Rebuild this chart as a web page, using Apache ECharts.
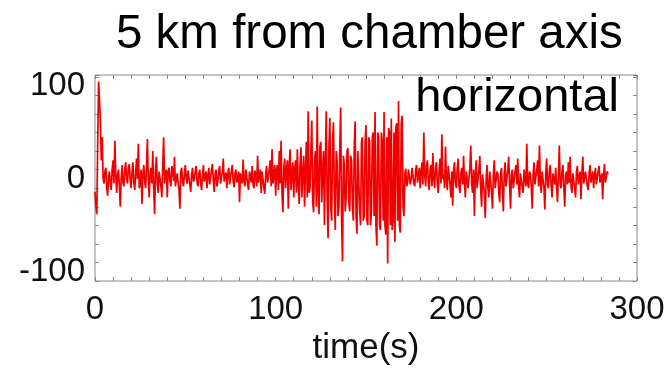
<!DOCTYPE html>
<html>
<head>
<meta charset="utf-8">
<script src="https://cdn.jsdelivr.net/npm/echarts@6/dist/echarts.min.js"></script>
<style>
html,body{margin:0;padding:0;background:#fff;}
#chart{width:669px;height:369px;}
</style>
</head>
<body>
<div id="chart"></div>
<script>
// ---- data ----
const titleText = '5 km from chamber axis';
const componentLabel = 'horizontal';
const xAxisName = 'time(s)';
const xTickLabels = [0, 100, 200, 300];
const yTickLabels = [-100, 0, 100];
const timeStep = 0.5; // seconds between samples
// ground motion, two samples per second from t = 0 s
const signal = [
  -14,-30, -38,40, 105,85, 60,20, 45,0, -5,8, 12,-10, -18,3, 8,-6, -12,10,
  20,-5, 41,5, -15,4, 10,-8, -30,0, 15,-4, -8,10, 18,0, -5,12, 16,-2,
  -10,8, 18,-4, -12,6, 22,0, 38,-10, -5,10, -27,5, 15,-2, -10,12, 43,0,
  -20,6, 12,-5, 30,-12, -38,10, 24,-6, -15,8, 10,-8, -20,15, 45,-5, 5,10,
  -20,8, 12,-3, -8,14, 10,-2, 24,-8, -10,6, 5,-12, -32,8, 12,-3, -8,6,
  15,0, -5,9, 8,-6, -14,5, 12,-3, 0,8, 14,-4, -8,6, 10,-5, -12,4,
  15,-3, 2,8, -10,4, 12,-6, -5,10, 16,-2, -14,6, 10,-8, -3,9, 14,-5,
  -6,8, 22,-3, 3,7, -10,5, 12,-6, -4,9, 15,-3, -9,6, 10,-4, 0,8,
  -25,6, 8,-5, 21,-2, -8,10, 12,-6, -12,8, 6,-4, 14,-6, -10,9, 5,-8,
  25,-4, -2,10, -15,8, 10,-10, -16,6, 14,-4, 2,12, 20,-8, 32,-5, -5,15,
  -18,10, 15,-12, 30,-5, 41,-15, -36,12, 22,-10, 10,20, -32,15, 32,-12, 5,18,
  -20,10, 20,-15, 32,-5, -27,15, 34,-20, 5,25, -30,10, 40,-20, 73,-15, -10,30,
  63,-25, -36,20, 30,-30, 78,-15, -38,35, 40,-25, 10,30, -50,20, 73,-20, -64,35,
  66,-30, -45,40, 61,-20, -55,30, 20,-40, -30,35, 77,-45, -89,25, 15,-35, -20,30,
  33,-25, -35,25, 20,-30, -45,35, 62,-40, -59,30, 30,-35, -50,40, 45,-45, -40,40,
  58,-45, -50,45, 40,-50, -35,45, 50,-40, 72,-50, -72,50, 45,-50, -55,50, 40,-45,
  72,-50, -60,45, -91,55, 50,-50, 65,-55, -45,50, -68,55, 60,-45, 84,-50, -58,60,
  68,-30, -40,5, 11,-8, -5,10, 8,-6, 0,12, 12,-5, -8,10, 15,-4, 3,12,
  -10,8, 18,-6, 50,5, -8,14, 20,-4, -12,10, 15,-8, 28,0, -10,12, 18,-6,
  -15,10, 22,-5, 48,0, 5,-10, 35,-2, -12,14, 15,-6, -20,8, -29,10, 18,-4,
  -10,12, 22,-8, -15,6, 12,-6, 25,-4, -20,8, 10,-10, -8,12, 36,-5, -15,10,
  -40,5, 20,-10, -10,10, 25,-12, -30,5, 5,-15, -42,0, 15,-10, -20,8, 8,-14,
  -32,5, 20,-10, -12,8, 5,-15, -25,6, 12,-12, -35,5, 18,-8, -10,10, 24,-6,
  -32,5, 10,-10, -8,8, 15,-6, 22,-10, -20,6, 8,-10, -15,10, 12,-8, 38,-5,
  -10,8, 5,-8, -32,4, 18,-6, -5,10, 20,-8, 36,-4, -15,8, 10,-10, -33,6,
  22,-6, -10,10, 15,-8, -20,6, 8,-6, 12,-10, -25,4, 36,-6, -10,8, 15,-10,
  -30,4, 8,-6, 18,-4, 24,-8, -15,6, 5,-10, -20,8, 14,-6, -8,8, -22,6,
  24,-5, -5,8, 10,-8, -12,6, 15,-4, 2,8, -10,4, 12,-6, -8,8, 14,-4,
  0,6, -22,4, 16,-4, 2,8, 5
];

const seriesData = signal.map((v, i) => [i * timeStep, v]);

const FONT = "'Liberation Sans', Arial, Helvetica, sans-serif";
const axisGray = '#8a8a8a';

const chart = echarts.init(document.getElementById('chart'), null, {renderer: 'canvas'});

function xLabel(v) { return xTickLabels.indexOf(Number(v)) >= 0 ? String(v) : ''; }

const option = {
  animation: false,
  backgroundColor: '#ffffff',
  title: [
    {
      text: titleText,
      left: 111,
      top: 6,
      textStyle: {fontSize: 47.5, fontWeight: 'normal', color: '#000', fontFamily: FONT}
    },
    {
      text: componentLabel,
      right: 45,
      top: 70,
      textStyle: {fontSize: 47, fontWeight: 'normal', color: '#000', fontFamily: FONT}
    }
  ],
  grid: {
    left: 95, right: 32, top: 75, bottom: 88,
    outerBoundsMode: 'none',
    containLabel: false,
    show: true, borderColor: axisGray, borderWidth: 1, backgroundColor: 'transparent'
  },
  xAxis: [
    {
      type: 'value', min: 0, max: 300, interval: 10,
      axisLine: {show: false, onZero: false},
      axisTick: {show: true, inside: true, length: 4, lineStyle: {color: axisGray}},
      axisLabel: {formatter: xLabel, fontSize: 33, color: '#111', fontFamily: FONT, margin: 12, showMaxLabel: true, showMinLabel: true},
      splitLine: {show: false},
      name: xAxisName, nameLocation: 'middle', nameGap: 38,
      nameTextStyle: {fontSize: 35, color: '#111', fontFamily: FONT}
    },
    {
      type: 'value', position: 'top', min: 0, max: 300, interval: 10,
      axisLine: {show: false, onZero: false},
      axisTick: {show: true, inside: true, length: 4, lineStyle: {color: axisGray}},
      axisLabel: {show: false},
      splitLine: {show: false}
    }
  ],
  yAxis: [
    {
      type: 'value', min: -110, max: 112, interval: 20, startValue: -100,
      axisLine: {show: false, onZero: false},
      axisTick: {show: true, inside: true, length: 4, lineStyle: {color: axisGray}},
      axisLabel: {customValues: yTickLabels, fontSize: 33, color: '#111', fontFamily: FONT, margin: 10},
      splitLine: {show: false}
    },
    {
      type: 'value', position: 'right', min: -110, max: 112, interval: 20, startValue: -100,
      axisLine: {show: false, onZero: false},
      axisTick: {show: true, inside: true, length: 4, lineStyle: {color: axisGray}},
      axisLabel: {show: false},
      splitLine: {show: false}
    }
  ],
  series: [
    {
      type: 'line',
      xAxisIndex: 0, yAxisIndex: 0,
      data: seriesData,
      showSymbol: false,
      symbol: 'none',
      lineStyle: {color: '#f00000', width: 1.7},
      z: 3
    }
  ]
};
chart.setOption(option);
</script>
</body>
</html>
